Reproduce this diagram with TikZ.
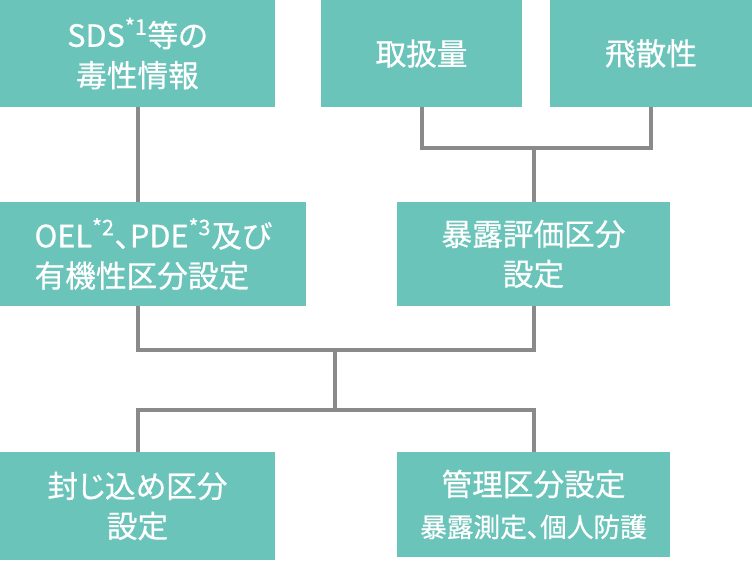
\documentclass[tikz,border=0pt]{standalone}
\usepackage{fontspec}
\setmainfont[RawFeature=+palt, FakeBold=0.6]{Noto Sans CJK JP}
\definecolor{boxteal}{RGB}{107,196,186}
\definecolor{linegray}{RGB}{138,138,138}
\tikzset{
  box/.style={fill=boxteal, text=white, inner sep=0pt, align=center, font=\fontsize{23}{30}\selectfont},
  link/.style={draw=linegray, line width=3pt}
}
\begin{document}
\begin{tikzpicture}[x=0.75pt,y=0.75pt,yscale=-1,xscale=1]
    \useasboundingbox (0,0) rectangle (752,560);

    % Text Nodes
    \draw (137.5,53.5) node [box, minimum width=206.25pt, minimum height=80.25pt] (sds) {SDS\textsuperscript{*1}等の\\毒性情報};
    \draw (421.5,53.5) node [box, minimum width=150.75pt, minimum height=80.25pt] (amt) {取扱量};
    \draw (651,53.5) node [box, minimum width=151.5pt, minimum height=80.25pt] (vol) {飛散性};
    \draw (153,254) node [box, align=left, minimum width=229.5pt, minimum height=78pt] (oel) {OEL\textsuperscript{*2}、PDE\textsuperscript{*3}及び\\有機性区分設定};
    \draw (533.5,254) node [box, minimum width=204.75pt, minimum height=78pt] (exp) {暴露評価区分\\設定};
    \draw (137.5,506) node [box, minimum width=206.25pt, minimum height=81pt] (enc) {封じ込め区分\\設定};
    \draw (533.5,504.5) node [box, minimum width=204.75pt, minimum height=78.75pt] (mgt) {管理区分設定\\[1pt]{\fontsize{20}{24}\selectfont 暴露測定、個人防護}};

    % Join points
    \coordinate (topjoin) at (exp.north |- 0,148);
    \coordinate (midjoin) at (335,350);
    \coordinate (lowjoin) at (335,410);

    % Straight Lines
    \draw [link] (sds.south) -- (sds.south |- oel.north);
    \draw [link] (amt.south) |- (topjoin) -| (vol.south);
    \draw [link] (topjoin) -- (exp.north);
    \draw [link] (enc.north |- oel.south) |- (midjoin) -| (exp.south);
    \draw [link] (midjoin) -- (lowjoin);
    \draw [link] (enc.north) |- (lowjoin) -| (mgt.north);
\end{tikzpicture}
\end{document}
